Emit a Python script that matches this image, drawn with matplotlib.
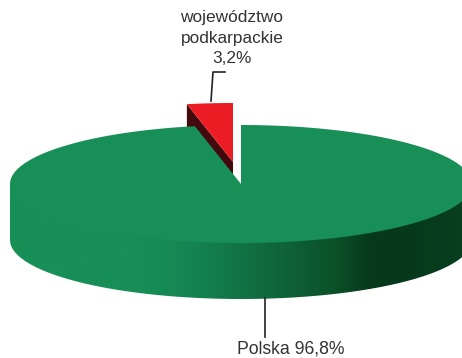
import numpy as np
import matplotlib
matplotlib.use('Agg')
import matplotlib.pyplot as plt
from matplotlib.colors import LinearSegmentedColormap
from matplotlib.patches import Polygon

plt.rcParams['font.family'] = ['Liberation Sans', 'DejaVu Sans']

# ── Data ─────────────────────────────────────────────────────
regions = ['województwo\npodkarpackie\n3,2%', 'Polska 96,8%']
shares = [3.2, 96.8]

# ── Pie geometry (pixels, y grows downward) ──────────────────
CX, CY = 241, 184
RX, RY = 231, 59
DEPTH = 56
START = 90
SHIFT = (-8, -22)   # how far the small slice is pulled out

GREEN = '#178F56'
RED = '#EC1C24'
DARK_RED = '#420A0C'
TEXT = '#333333'


def rim(deg):
    t = np.radians(deg)
    return np.column_stack([CX + RX * np.cos(t), CY - RY * np.sin(t)])


fig = plt.figure(figsize=(4.62, 3.58), dpi=100)
ax = fig.add_axes([0, 0, 1, 1])
ax.set_xlim(0, 462)
ax.set_ylim(358, 0)
ax.axis('off')

end = START + shares[0] / sum(shares) * 360

# ── Pulled-out slice: cut face first, then its top ───────────
slice_rim = rim(np.linspace(START, end, 20)) + SHIFT
tip = np.array([[CX + SHIFT[0], CY + SHIFT[1]]])
left_edge = np.vstack([slice_rim[-1:], tip])
face = np.vstack([left_edge, left_edge[::-1] + (0, DEPTH)])
ax.add_patch(Polygon(face, closed=True, fc=DARK_RED, ec='none', zorder=1))
ax.add_patch(Polygon(np.vstack([tip, slice_rim]), closed=True, fc=RED, ec='none', zorder=2))

# ── Front wall with its shading (runs a little under the top) ─
front = rim(np.linspace(180, 360, 200))
wall = Polygon(np.vstack([front - (0, 4), front[::-1] + (0, DEPTH)]), closed=True,
               fc='none', ec='none', zorder=3)
ax.add_patch(wall)
shade = LinearSegmentedColormap.from_list('wall', [
    (0.00, GREEN), (0.27, GREEN), (0.39, '#158553'), (0.52, '#116F42'),
    (0.70, '#0C5229'), (0.78, '#06391B'), (0.88, '#063A1C'), (1.00, '#07401F'),
])
img = ax.imshow(np.linspace(0, 1, 256)[None, :], cmap=shade, aspect='auto',
                extent=(CX - RX, CX + RX, 358, 0), zorder=3)
img.set_clip_path(wall)
ax.set_xlim(0, 462)
ax.set_ylim(358, 0)

# ── Big slice, top surface ───────────────────────────────────
big_rim = rim(np.linspace(end, START + 360, 400))
ax.add_patch(Polygon(np.vstack([[[CX, CY]], big_rim]), closed=True,
                     fc=GREEN, ec='none', zorder=4))

# ── Leader lines and labels ──────────────────────────────────
ax.plot([211, 213, 225], [101, 72, 72], color='#222222', lw=1.2, zorder=5)
ax.plot([265, 265], [CY + RY + DEPTH - 1, 337], color='#222222', lw=1.2, zorder=5)
ax.text(232, 38, regions[0], ha='center', va='center', fontsize=12.4,
        color=TEXT, linespacing=1.42)
ax.text(291, 349, regions[1], ha='center', va='center', fontsize=12.7, color=TEXT)

fig.savefig('out.png', dpi=100, facecolor='white')
plt.close(fig)
